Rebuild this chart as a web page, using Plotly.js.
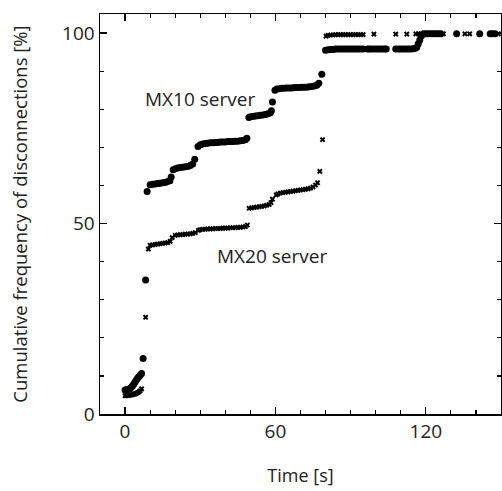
<!DOCTYPE html>
<html><head>
<script src="https://cdn.plot.ly/plotly-3.0.1.min.js"></script>
<style>body{margin:0;background:#fff}</style>
</head><body>
<div id="chart" style="width:502px;height:491px"></div>
<script>
const mx10Time = [0,0.5,1,1.5,2,2.5,3,3.5,4,4.5,5,5.5,6,6.6,7.2,8.2,8.8,
  10,11,12,13,14,15,16,17,17.9,18.4,
  19.2,20,21,22,23,24,25,26,27,27.8,
  29.1,30,31,32,33,34,35,36,37,38,39,40,41,42,43,44,45,46,47,48,48.6,
  49.4,50,51,52,53,54,55,56,57,58,58.4,58.8,
  59.8,60.5,61.5,62.5,63.5,64.5,65.5,66.5,67.5,68.5,69.5,70.5,71.5,72.5,73.5,74.5,75.5,76.5,77.3,78.5,
  80,81,82,83,84,85,86,87,88,89,90,91,92,93,94,95,
  96.8,97.5,98.5,99.5,100.5,101.5,102.5,103.5,104.2,
  108,109,110,111,112,113,114,115,115.8,116.4,117,117.6,118.3,
  119,120,121,122,123,124,125,126,132.3,141.5,145.7,146.6,147.6];
const mx10Freq = [6.3,6.3,6.4,6.5,6.7,7.0,7.4,7.9,8.4,8.9,9.4,9.8,10.2,10.6,14.6,35.2,58.4,
  60.2,60.3,60.4,60.5,60.6,60.7,60.8,61.0,61.2,62.2,
  64.1,64.4,64.6,64.7,64.8,64.9,65.0,65.2,65.6,66.9,
  70.2,70.7,70.9,71.0,71.1,71.2,71.2,71.3,71.3,71.4,71.4,71.4,71.5,71.5,71.5,71.6,71.6,71.7,71.8,72.0,72.4,
  77.8,78.0,78.1,78.2,78.3,78.4,78.5,78.6,78.8,79.1,79.6,81.9,
  85.0,85.3,85.4,85.5,85.5,85.6,85.6,85.6,85.7,85.7,85.7,85.8,85.8,85.8,85.9,86.0,86.1,86.3,86.8,89.2,
  95.5,95.6,95.7,95.7,95.8,95.8,95.8,95.8,95.8,95.8,95.8,95.8,95.8,95.8,95.8,95.8,
  95.8,95.8,95.8,95.8,95.8,95.8,95.8,95.8,95.8,
  95.8,95.8,95.8,95.8,95.8,95.8,95.8,95.9,96.0,96.3,97.2,98.2,99.3,
  99.8,99.8,99.8,99.8,99.8,99.8,99.8,99.8,99.8,99.8,99.8,99.8,99.8];
const mx20Time = [0,0.5,1,1.5,2,2.5,3,3.5,4,4.5,5,5.5,6,6.6,8.2,9.3,
  10,11,12,13,14,15,16,17,18,18.8,
  20,21,22,23,24,25,26,27,28,29.3,
  30,31,32,33,34,35,36,37,38,39,40,41,42,43,44,45,46,47,48,48.8,
  49.5,50.5,51.5,52.5,53.5,54.5,55.5,56.5,57.5,58.2,58.8,
  60.3,61,62,63,64,65,66,67,68,69,70,71,72,73,74,75,76,76.8,77.7,78.8,
  80.2,81,82,83,84,85,86,87,88,89,90,91,92,93,94,95,99.3,108,112.4,
  116,117,118,119,120,121,122,123,124,125,126,127,135.6,137.5,149];
const mx20Freq = [4.8,4.8,4.9,4.9,5.0,5.0,5.1,5.2,5.3,5.4,5.6,5.8,6.1,6.6,25.4,43.3,
  44.3,44.4,44.5,44.6,44.7,44.8,44.9,45.0,45.3,46.3,
  46.9,47.0,47.1,47.1,47.2,47.2,47.3,47.4,47.6,48.2,
  48.4,48.5,48.5,48.6,48.6,48.6,48.7,48.7,48.7,48.8,48.8,48.8,48.9,48.9,48.9,49.0,49.0,49.1,49.2,49.6,
  54.0,54.1,54.2,54.3,54.4,54.5,54.6,54.8,55.0,55.5,56.4,
  57.5,57.8,58.0,58.1,58.2,58.3,58.4,58.5,58.6,58.7,58.8,58.9,59.0,59.1,59.3,59.6,60.1,60.7,63.7,72.0,
  99.2,99.4,99.5,99.5,99.6,99.6,99.6,99.6,99.6,99.6,99.6,99.6,99.6,99.6,99.6,99.6,99.7,99.7,99.7,
  99.8,99.8,99.8,99.8,99.8,99.8,99.8,99.8,99.8,99.8,99.8,99.8,99.8,99.8,99.8];
const xTicks = [0,60,120];
const yTicks = [0,50,100];
const seriesNames = ['MX10 server','MX20 server'];
const xTitle = 'Time [s]';
const yTitle = 'Cumulative frequency of disconnections [%]';

const FONT = 'Open Sans, Noto Sans, sans-serif';
const traces = [
  {x: mx10Time, y: mx10Freq, name: seriesNames[0], mode: 'markers', type: 'scatter',
   marker: {symbol: 'circle', size: 7, color: '#000'}},
  {x: mx20Time, y: mx20Freq, name: seriesNames[1], mode: 'markers', type: 'scatter',
   marker: {symbol: 'x', size: 5, color: '#000'}}
];
const axisCommon = {
  showgrid: false, zeroline: false, showline: true, linecolor: '#000', linewidth: 1.5,
  ticks: 'inside', ticklen: 7, tickwidth: 1.2, tickcolor: '#000', mirror: 'allticks',
  tickfont: {family: FONT, size: 19, color: '#222'},
  minor: {ticks: 'inside', ticklen: 4, tickwidth: 1.2, tickcolor: '#000', dtick: 10, tick0: 0, showgrid: false}
};
const layout = {
  width: 502, height: 491,
  margin: {l: 100, r: 1, t: 14, b: 77},
  paper_bgcolor: '#fff', plot_bgcolor: '#fff',
  showlegend: false,
  font: {family: FONT, color: '#222'},
  xaxis: Object.assign({}, axisCommon, {
    range: [-10, 150], tickmode: 'array', tickvals: xTicks, ticktext: xTicks.map(String),
    title: {text: xTitle, font: {family: FONT, size: 18, color: '#222'}, standoff: 26}
  }),
  yaxis: Object.assign({}, axisCommon, {
    range: [0, 105], tickmode: 'array', tickvals: yTicks, ticktext: yTicks.map(String),
    title: {text: yTitle, font: {family: FONT, size: 18.5, color: '#222'}, standoff: 29}
  }),
  annotations: [
    {x: 30, y: 82.8, xref: 'x', yref: 'y', text: seriesNames[0], showarrow: false,
     font: {family: FONT, size: 19, color: '#222'}},
    {x: 58.8, y: 41.4, xref: 'x', yref: 'y', text: seriesNames[1], showarrow: false,
     font: {family: FONT, size: 19, color: '#222'}}
  ]
};
Plotly.newPlot('chart', traces, layout, {displayModeBar: false, staticPlot: true});
</script>
</body></html>
